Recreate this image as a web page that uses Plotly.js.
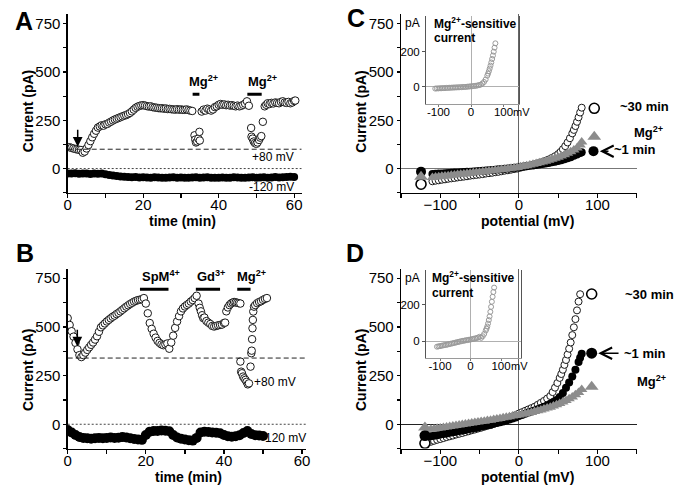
<!DOCTYPE html>
<html>
<head>
<meta charset="utf-8">
<script src="https://cdn.plot.ly/plotly-3.0.1.min.js"></script>
<style>html,body{margin:0;padding:0;background:#fff;}#chart{width:685px;height:491px;}</style>
</head>
<body>
<div id="chart"></div>
<script>
// ---------------- DATA ----------------
// Panel A : current vs time (+80 mV open circles, -120 mV filled)
const tA80 = [0,0.5,1,1.5,2,2.5,3,3.5,4,4.5,5,5.5,6,6.5,7,7.5,8,8.5,9,9.5,10,10.5,11,11.5,12,12.5,13,13.5,14,14.5,15,15.5,16,16.5,17,17.5,18,18.5,19,19.5,20,20.5,21,21.5,22,22.5,23,23.5,24,24.5,25,25.5,26,26.5,27,27.5,28,28.5,29,29.5,30,30.5,31,31.5,32,32.5,33,
  33.6,33.8,34.0,34.3,34.6,34.9,35.0,
  35.5,36,36.5,37,37.5,38,38.5,39,39.5,40,40.5,41,41.5,42,42.5,43,43.5,44,44.5,45,45.5,46,46.5,47,47.5,48,
  48.6,48.7,49.0,49.3,49.6,50.0,50.3,50.7,51.0,51.3,51.7,
  52.2,52.6,53,53.5,54,54.5,55,55.5,56,56.5,57,57.5,58,58.5,59,59.5,60,60.3];
const iA80 = [112,110,107,104,101,99,97,96,82,88,104,122,142,162,180,196,212,218,224,222,229,231,238,243,249,254,258,262,266,270,274,277,282,288,296,305,314,320,324,327,328,326,323,321,322,318,316,315,313,312,312,310,311,308,309,307,306,305,307,305,306,304,304,306,303,300,298,
  172,150,135,140,155,190,145,
  295,305,300,310,306,300,306,318,322,330,334,330,332,328,330,326,328,325,322,326,322,325,330,336,348,325,
  210,165,155,140,132,128,135,148,160,168,242,
  322,330,338,334,340,337,342,340,338,345,348,342,340,345,338,342,350,352];
const tA120 = [0,1,2,3,4,5,6,7,8,9,10,11,12,13,14,15,16,17,18,19,20,21,22,23,24,25,26,27,28,29,30,31,32,33,34,35,36,37,38,39,40,41,42,43,44,45,46,47,48,49,50,51,52,53,54,55,56,57,58,59,60];
const iA120 = [-25,-26,-24,-27,-25,-26,-28,-25,-27,-26,-30,-33,-36,-39,-41,-43,-44,-45,-44,-46,-45,-46,-47,-45,-46,-47,-48,-46,-45,-47,-46,-47,-48,-46,-45,-47,-46,-45,-47,-48,-47,-46,-48,-47,-45,-46,-47,-48,-46,-45,-47,-46,-45,-47,-46,-44,-46,-45,-44,-43,-44];
const baseA = 100;

// Panel B
const tB80 = [0,0.5,1,1.5,2,2.5,3,3.5,4,4.5,5,5.5,6,6.5,7,7.5,8,8.5,9,9.5,10,10.5,11,11.5,12,12.5,13,13.5,14,14.5,15,15.5,16,16.5,17,17.5,18,18.5,19,19.5,
  20,20.5,21,21.5,22,22.5,23,23.5,24,24.5,25,25.5,26,26.5,27,27.5,28,28.5,29,29.5,30,30.5,31,31.5,32,32.5,33,
  33.5,33.8,34.1,34.4,34.7,35,35.5,36,36.5,37,37.5,38,38.5,39,39.5,40,40.3,
  40.6,41,41.4,41.8,42.2,42.6,43,43.4,43.8,44.2,
  44.2,44.4,44.6,44.9,45.2,45.5,45.8,46.1,46.4,
  46.8,47.0,47.1,47.2,47.3,47.4,47.5,47.7,48,48.5,49,49.5,50,50.5,51];
const iB80 = [545,510,478,450,418,385,355,345,355,368,382,395,408,420,435,452,475,498,508,518,528,536,544,552,558,566,572,580,588,596,604,611,618,624,630,634,638,640,642,648,
  620,570,520,490,465,445,428,418,410,406,410,415,388,420,455,495,528,555,580,595,605,613,620,630,638,648,660,
  620,598,580,560,545,548,530,522,515,505,502,505,508,510,512,520,522,
  580,600,612,620,625,628,626,624,622,620,
  322,270,262,245,236,228,218,205,210,
  296,365,378,437,493,536,579,604,612,622,628,632,639,644,648];
const tB120 = [0,1,2,3,4,5,6,7,8,9,10,11,12,13,14,15,16,17,18,19,20,21,22,23,24,25,26,27,28,29,30,31,32,33,34,35,36,37,38,39,40,41,42,43,44,45,46,47,48,49,50];
const iB120 = [-30,-42,-55,-65,-70,-72,-74,-72,-70,-72,-70,-68,-70,-69,-66,-68,-72,-76,-78,-80,-55,-38,-35,-34,-32,-33,-36,-55,-68,-74,-78,-82,-84,-70,-42,-38,-40,-42,-44,-46,-55,-62,-64,-62,-56,-45,-35,-50,-56,-58,-60];
const baseB = 340;

// Panel C : I-V (open = ~30 min, filled = ~1 min, grey triangles = Mg2+)
const vCo = [-110,-106,-102,-98,-94,-90,-86,-82,-78,-74,-70,-66,-62,-58,-54,-50,-46,-42,-38,-34,-30,-26,-22,-18,-14,-10,-6,-2,2,6,10,14,18,22,26,30,34,38,42,46,50,53,56,59,62,65,68,70,72,74,76,78,80];
const iCo = [-66,-63,-61,-58,-56,-53,-51,-49,-46,-44,-42,-40,-37,-35,-33,-31,-29,-26,-24,-22,-19,-17,-14,-11,-9,-6,-3,0,4,8,12,16,20,24,29,34,40,47,55,64,75,86,100,116,135,157,182,200,220,242,265,290,315];
const vCb = [-110,-106,-102,-98,-94,-90,-86,-82,-78,-74,-70,-66,-62,-58,-54,-50,-46,-42,-38,-34,-30,-26,-22,-18,-14,-10,-6,-2,2,6,10,14,18,22,26,30,34,38,42,46,50,54,58,62,66,70,74,78,80];
const iCb = [-28,-27,-26,-25,-24,-23,-22,-21,-20,-19,-18,-17,-16,-15,-14,-13,-12,-10,-9,-7,-6,-4,-3,-1,0,2,4,6,8,10,12,14,16,18,21,23,26,29,32,35,39,43,48,53,59,66,73,80,84];
const vCg = [-110,-106,-102,-98,-94,-90,-86,-82,-78,-74,-70,-66,-62,-58,-54,-50,-46,-42,-38,-34,-30,-26,-22,-18,-14,-10,-6,-2,2,6,10,14,18,22,26,30,34,38,42,46,50,54,58,62,66,70,74,78,80];
const iCg = [-46,-44,-42,-40,-39,-37,-35,-33,-31,-30,-28,-26,-24,-22,-20,-19,-17,-15,-13,-11,-9,-7,-5,-3,-1,1,3,6,9,12,15,19,22,26,30,34,38,43,48,53,59,65,72,79,87,96,107,122,138];
const keyCv = [96, 95, 96];          // right-hand key symbols (open, filled, triangle)
const keyCi = [312, 90, 165];
const stepCv = [-124.5, -124.5, -124.5];
const stepCi = [-81, -16, -42];

// Panel D
const vDo = [-112,-108,-104,-100,-96,-92,-88,-84,-80,-76,-72,-68,-64,-60,-56,-52,-48,-44,-40,-36,-32,-28,-24,-20,-16,-12,-8,-4,0,4,8,12,16,20,24,28,32,36,40,43,46,49,52,54,56,58,60,62,64,66,68,70,72,74,76,78];
const iDo = [-90,-85,-80,-76,-71,-66,-62,-58,-53,-49,-45,-40,-36,-31,-27,-22,-18,-13,-8,-4,2,8,14,20,26,33,40,47,55,62,69,76,83,90,100,110,120,132,145,165,188,212,238,258,280,305,330,358,388,420,458,498,540,585,630,668];
const vDb = [-112,-108,-104,-100,-96,-92,-88,-84,-80,-76,-72,-68,-64,-60,-56,-52,-48,-44,-40,-36,-32,-28,-24,-20,-16,-12,-8,-4,0,4,8,12,16,20,24,28,32,36,40,44,48,52,56,60,64,68,72,76,78,80];
const iDb = [-62,-59,-56,-53,-50,-47,-44,-41,-38,-35,-32,-29,-26,-22,-19,-16,-12,-9,-5,-2,2,6,10,14,19,24,29,35,42,48,54,60,65,71,77,83,90,97,105,114,125,140,160,188,215,245,280,320,342,362];
const vDg = [-112,-108,-104,-100,-96,-92,-88,-84,-80,-76,-72,-68,-64,-60,-56,-52,-48,-44,-40,-36,-32,-28,-24,-20,-16,-12,-8,-4,0,4,8,12,16,20,24,28,32,36,40,44,48,52,56,60,64,68,72,76,80];
const iDg = [-26,-24,-21,-19,-16,-14,-11,-9,-6,-4,-1,1,4,6,9,11,14,16,19,21,24,27,30,33,36,39,42,45,48,51,54,58,61,65,69,73,78,83,88,94,100,107,114,122,131,140,151,163,178];
const keyDv = [92.7, 92.7, 92.7];
const keyDi = [669, 365, 193];
const stepDv = [-119.5, -119.5, -119.5];
const stepDi = [-98, -58, -17];

// Insets : Mg2+-sensitive current
const vCin = [-110,-105,-100,-95,-90,-85,-80,-75,-70,-65,-60,-55,-50,-45,-40,-35,-30,-25,-20,-15,-10,-5,0,5,10,15,20,25,30,35,40,45,50,52.5,55,57.5,60,62.5,65,67.5,70,72.5,75];
const iCin = [-12,-11,-11,-10,-10,-9,-9,-8,-8,-7,-7,-6,-6,-5,-5,-4,-4,-3,-3,-2,-1,0,1,2,3,4,6,8,11,17,26,40,62,74,88,103,120,138,158,178,200,223,248];
const vDin = [-110,-105,-100,-95,-90,-85,-80,-75,-70,-65,-60,-55,-50,-45,-40,-35,-30,-25,-20,-15,-10,-5,0,5,10,15,20,25,30,35,40,45,50,52.5,55,57.5,60,62.5,65,67.5,70,72.5,75,77.5];
const iDin = [-30,-28,-27,-25,-23,-21,-20,-18,-16,-14,-12,-10,-8,-6,-4,-2,0,2,3,5,6,8,9,11,13,15,17,20,24,18,27,40,58,68,80,96,115,135,160,187,215,242,268,292];

// Drug application bars [start, end, level]
const barsA = [[33.1, 34.9, 384], [47.6, 51.4, 384]];
const barsB = [[18.5, 25.8, 693], [32.8, 39.0, 693], [43.4, 46.8, 693]];

// ---------------- DRAWING ----------------
const FONT = 'Liberation Sans, Arial, Helvetica, sans-serif';
const W = 685, H = 491;
const fx = v => v / W, fy = v => 1 - v / H;

const openM = (sz) => ({color: '#ffffff', size: sz, line: {color: '#1a1a1a', width: 1}});
const fillM = (sz) => ({color: '#000000', size: sz, line: {width: 0}});
const triM = (sz) => ({symbol: 'triangle-up', color: '#8c8c8c', size: sz, line: {width: 0}});
const inM = {color: 'rgba(255,255,255,0)', size: 5, line: {color: '#9a9a9a', width: 1}};

const traces = [
  {x: tA120, y: iA120, xaxis: 'x', yaxis: 'y', mode: 'markers', marker: fillM(8)},
  {x: tA80, y: iA80, xaxis: 'x', yaxis: 'y', mode: 'markers', marker: openM(7.5)},
  {x: tB120, y: iB120, xaxis: 'x2', yaxis: 'y2', mode: 'markers', marker: fillM(10)},
  {x: tB80, y: iB80, xaxis: 'x2', yaxis: 'y2', mode: 'markers', marker: openM(7.5)},

  {x: vCo, y: iCo, xaxis: 'x3', yaxis: 'y3', mode: 'markers', marker: openM(7)},
  {x: vCb, y: iCb, xaxis: 'x3', yaxis: 'y3', mode: 'markers', marker: fillM(8)},
  {x: vCg, y: iCg, xaxis: 'x3', yaxis: 'y3', mode: 'markers', marker: triM(10)},
  {x: [keyCv[0], stepCv[0]], y: [keyCi[0], stepCi[0]], xaxis: 'x3', yaxis: 'y3', mode: 'markers', marker: {color: '#fff', size: 10, line: {color: '#000', width: 1.6}}},
  {x: [keyCv[1], stepCv[1]], y: [keyCi[1], stepCi[1]], xaxis: 'x3', yaxis: 'y3', mode: 'markers', marker: fillM(10)},
  {x: [keyCv[2], stepCv[2]], y: [keyCi[2], stepCi[2]], xaxis: 'x3', yaxis: 'y3', mode: 'markers', marker: triM(12)},

  {x: vDo, y: iDo, xaxis: 'x4', yaxis: 'y4', mode: 'markers', marker: openM(7)},
  {x: vDb, y: iDb, xaxis: 'x4', yaxis: 'y4', mode: 'markers', marker: fillM(8)},
  {x: vDg, y: iDg, xaxis: 'x4', yaxis: 'y4', mode: 'markers', marker: triM(10)},
  {x: [keyDv[0], stepDv[0]], y: [keyDi[0], stepDi[0]], xaxis: 'x4', yaxis: 'y4', mode: 'markers', marker: {color: '#fff', size: 10, line: {color: '#000', width: 1.6}}},
  {x: [keyDv[1], stepDv[1]], y: [keyDi[1], stepDi[1]], xaxis: 'x4', yaxis: 'y4', mode: 'markers', marker: fillM(11)},
  {x: [keyDv[2], stepDv[2]], y: [keyDi[2], stepDi[2]], xaxis: 'x4', yaxis: 'y4', mode: 'markers', marker: triM(12)},

  {x: vCin, y: iCin, xaxis: 'x5', yaxis: 'y5', mode: 'markers', marker: inM},
  {x: vDin, y: iDin, xaxis: 'x6', yaxis: 'y6', mode: 'markers', marker: inM}
];

const tickF = {family: FONT, size: 15, color: '#000'};
function mainX(dom, range, dtick, minorD, anchor, zero) {
  return {domain: dom, range: range, anchor: anchor, showline: true, linecolor: '#000', linewidth: 1.3,
    ticks: 'outside', ticklen: 4, tickwidth: 1.2, tickcolor: '#000', tickmode: 'linear', tick0: 0, dtick: dtick,
    ticklabelstandoff: -6,
    minor: {ticks: 'outside', ticklen: 4, tickwidth: 1.2, tickcolor: '#000', dtick: minorD, tick0: 0, showgrid: false},
    showgrid: false, zeroline: !!zero, zerolinecolor: zero || '#000', zerolinewidth: 1.2, tickfont: tickF, fixedrange: true};
}
function mainY(dom, anchor, zero) {
  return {domain: dom, range: [-125, 800], anchor: anchor, showline: true, linecolor: '#000', linewidth: 1.3,
    ticks: 'outside', ticklen: 3, tickwidth: 1.2, tickcolor: '#000', tickmode: 'linear', tick0: 0, dtick: 250,
    minor: {ticks: 'outside', ticklen: 3, tickwidth: 1.2, tickcolor: '#000', dtick: 125, tick0: 0, showgrid: false},
    showgrid: false, zeroline: !!zero, zerolinecolor: zero || '#000', zerolinewidth: 1.3, tickfont: tickF, fixedrange: true};
}
function insetX(dom, range, anchor) {
  return {domain: dom, range: range, anchor: anchor, showline: true, linecolor: '#9a9a9a', linewidth: 1,
    ticks: 'outside', ticklen: 2, tickcolor: '#777', tickvals: [-100, 0, 100], ticktext: ['-100', '0', '100'],
    ticklabelstandoff: -5,
    showgrid: false, zeroline: true, zerolinecolor: '#b0b0b0', zerolinewidth: 1,
    tickfont: {family: FONT, size: 11.5, color: '#000'}, fixedrange: true};
}
function insetY(dom, range, anchor) {
  return {domain: dom, range: range, anchor: anchor, showline: true, mirror: true, linecolor: '#555', linewidth: 1,
    ticks: 'outside', ticklen: 3, tickcolor: '#555', tickvals: [0, 200], ticktext: ['0', '200'],
    showgrid: false, zeroline: true, zerolinecolor: '#b0b0b0', zerolinewidth: 1,
    tickfont: {family: FONT, size: 11.5, color: '#000'}, fixedrange: true};
}

const topDom = [fy(192.7), fy(14)];
const botDom = [fy(448.6), fy(268.5)];

const layout = {
  width: W, height: H, margin: {l: 0, r: 0, t: 0, b: 0}, showlegend: false,
  paper_bgcolor: '#fff', plot_bgcolor: 'rgba(0,0,0,0)',
  font: {family: FONT, color: '#000'},
  xaxis: mainX([fx(67.7), fx(301.7)], [0, 62], 20, 10, 'y'),
  yaxis: mainY(topDom, 'x'),
  xaxis2: mainX([fx(67.7), fx(306)], [0, 61], 20, 10, 'y2'),
  yaxis2: mainY(botDom, 'x2'),
  xaxis3: mainX([fx(401), fx(636.7)], [-150, 150], 100, 50, 'y3', '#666'),
  yaxis3: mainY(topDom, 'x3', '#777'),
  xaxis4: mainX([fx(401), fx(636.7)], [-150, 150], 100, 50, 'y4', '#666'),
  yaxis4: mainY(botDom, 'x4', '#222'),
  xaxis5: insetX([fx(426), fx(519)], [-138.5, 147.7], 'y5'),
  yaxis5: insetY([fy(104), fy(16)], [-100.6, 405], 'x5'),
  xaxis6: insetX([fx(426), fx(521)], [-146, 165.6], 'y6'),
  yaxis6: insetY([fy(358), fy(270)], [-91.6, 388], 'x6'),
  shapes: [],
  annotations: []
};

// reference lines
layout.shapes.push({type: 'line', xref: 'x', yref: 'y', x0: 0, x1: 62, y0: baseA, y1: baseA, line: {color: '#222', width: 1, dash: '5px,3px'}});
layout.shapes.push({type: 'line', xref: 'x', yref: 'y', x0: 0, x1: 62, y0: 0, y1: 0, line: {color: '#444', width: 1, dash: '2px,2px'}});
layout.shapes.push({type: 'line', xref: 'x2', yref: 'y2', x0: 0, x1: 61, y0: baseB, y1: baseB, line: {color: '#222', width: 1, dash: '5px,3px'}});
layout.shapes.push({type: 'line', xref: 'x2', yref: 'y2', x0: 0, x1: 61, y0: 0, y1: 0, line: {color: '#444', width: 1, dash: '2px,2px'}});
barsA.forEach(b => layout.shapes.push({type: 'line', xref: 'x', yref: 'y', x0: b[0], x1: b[1], y0: b[2], y1: b[2], line: {color: '#000', width: 3}}));
barsB.forEach(b => layout.shapes.push({type: 'line', xref: 'x2', yref: 'y2', x0: b[0], x1: b[1], y0: b[2], y1: b[2], line: {color: '#000', width: 3}}));

function T(text, x, y, size, o) {
  o = o || {};
  layout.annotations.push({text: text, x: fx(x), y: fy(y), xref: 'paper', yref: 'paper', showarrow: false,
    xanchor: o.xa || 'center', yanchor: o.ya || 'middle', textangle: o.angle || 0,
    font: {family: FONT, size: size, color: o.color || '#000'}});
}
function ARR(ax, ay, x, y, xr, yr, head, size) {
  layout.annotations.push({text: '', x: x, y: y, ax: ax, ay: ay, xref: xr, yref: yr, axref: xr, ayref: yr,
    showarrow: true, arrowhead: head, arrowsize: size, arrowwidth: 1.5, arrowcolor: '#000',
    font: {family: FONT, size: 12, color: '#000'}});
}

// panel letters
T('<b>A</b>', 24, 21, 25); T('<b>B</b>', 25, 253, 25); T('<b>C</b>', 356, 18, 25); T('<b>D</b>', 355, 253, 25);
// axis titles
T('<b>Current (pA)</b>', 27.5, 111.7, 14, {angle: -90});
T('<b>Current (pA)</b>', 27.5, 370.5, 14, {angle: -90});
T('<b>Current (pA)</b>', 361, 111.7, 14, {angle: -90});
T('<b>Current (pA)</b>', 361, 370, 14, {angle: -90});
T('<b>time (min)</b>', 182, 221, 14);
T('<b>time (min)</b>', 188, 477, 14);
T('<b>potential (mV)</b>', 527.5, 221, 14);
T('<b>potential (mV)</b>', 527.5, 477, 14);
// panel A labels
T('+80 mV', 296, 156.7, 12, {xa: 'right'});
T('-120 mV', 296, 186.7, 12, {xa: 'right'});
T('<b>Mg<sup>2+</sup></b>', 203, 81, 13);
T('<b>Mg<sup>2+</sup></b>', 262.5, 81, 13);
ARR(2.65, 208, 2.65, 113, 'x', 'y', 2, 1.3);
// panel B labels
T('+80 mV', 298, 381.7, 12, {xa: 'right'});
T('-120 mV', 307.5, 438.3, 12, {xa: 'right'});
T('<b>SpM<sup>4+</sup></b>', 160.8, 276, 13);
T('<b>Gd<sup>3+</sup></b>', 211.3, 276, 13);
T('<b>Mg<sup>2+</sup></b>', 251.3, 276, 13);
ARR(2.46, 493, 2.46, 399, 'x2', 'y2', 2, 1.3);
// panel C labels
T('<b>~30 min</b>', 617.7, 106.7, 13, {xa: 'left'});
T('<b>Mg<sup>2+</sup></b>', 648, 132, 13);
T('<b>~1 min</b>', 611.7, 150, 13, {xa: 'left'});
ARR(116, 90, 103, 90, 'x3', 'y3', 5, 1.5);
// panel D labels
T('<b>~30 min</b>', 623, 294, 13, {xa: 'left'});
T('<b>~1 min</b>', 621.7, 353.3, 13, {xa: 'left'});
T('<b>Mg<sup>2+</sup></b>', 651, 381, 13);
ARR(128.8, 365, 101, 365, 'x4', 'y4', 5, 1.5);
// inset labels
T('pA', 413, 23, 12); T('pA', 413, 278, 12);
T('<b>Mg<sup>2+</sup>-sensitive</b>', 431.7, 22.5, 12, {xa: 'left'});
T('<b>current</b>', 431.7, 38, 12, {xa: 'left'});
T('<b>Mg<sup>2+</sup>-sensitive</b>', 430, 277, 12, {xa: 'left'});
T('<b>current</b>', 430, 292.5, 12, {xa: 'left'});
T('mV', 521, 112, 11); T('mV', 519, 366, 11);

Plotly.newPlot('chart', traces, layout, {staticPlot: true, displayModeBar: false});
</script>
</body>
</html>
